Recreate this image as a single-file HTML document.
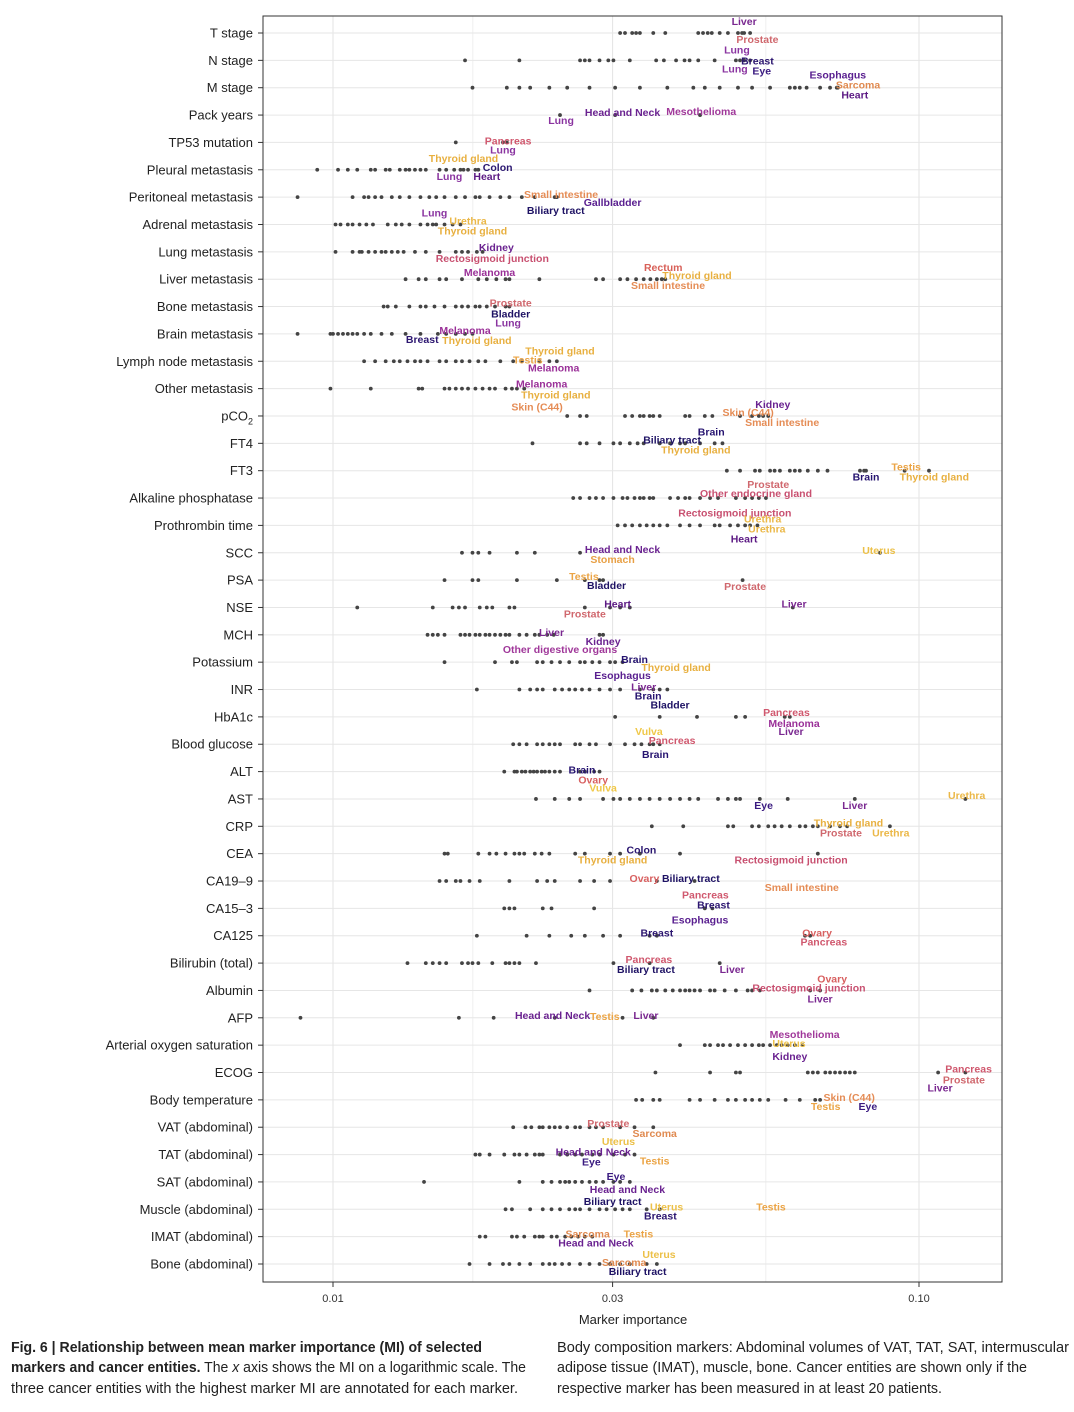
<!DOCTYPE html>
<html><head><meta charset="utf-8">
<style>
html,body{margin:0;padding:0;background:#fff;}
svg{display:block;font-family:"Liberation Sans",sans-serif;}
</style></head>
<body>
<svg id="chart" width="1074" height="1412" viewBox="0 0 1074 1412" xmlns="http://www.w3.org/2000/svg">
<rect x="0" y="0" width="1074" height="1412" fill="#fff"/>
<g id="grid"></g>
<g id="dots"></g>
<g id="ann"></g>
<rect x="263" y="16" width="739" height="1266" fill="none" stroke="#333" stroke-width="1"/>
<g id="ylabels"></g>
<g id="xaxis"></g>
<text x="633" y="1324" font-size="13" text-anchor="middle" fill="#222">Marker importance</text>
<g font-size="14.5" fill="#222">
<text x="11" y="1352" textLength="471" lengthAdjust="spacingAndGlyphs" font-weight="bold">Fig. 6 | Relationship between mean marker importance (MI) of selected</text>
<text x="11" y="1372" textLength="515" lengthAdjust="spacingAndGlyphs"><tspan font-weight="bold">markers and cancer entities.</tspan> The <tspan font-style="italic">x</tspan> axis shows the MI on a logarithmic scale. The</text>
<text x="11" y="1393" textLength="507" lengthAdjust="spacingAndGlyphs">three cancer entities with the highest marker MI are annotated for each marker.</text>
</g>
<g font-size="14.5" fill="#222">
<text x="557" y="1352" textLength="512" lengthAdjust="spacingAndGlyphs">Body composition markers: Abdominal volumes of VAT, TAT, SAT, intermuscular</text>
<text x="557" y="1372" textLength="470" lengthAdjust="spacingAndGlyphs">adipose tissue (IMAT), muscle, bone. Cancer entities are shown only if the</text>
<text x="557" y="1393" textLength="385" lengthAdjust="spacingAndGlyphs">respective marker has been measured in at least 20 patients.</text>
</g>
</svg>
<script>
const markers=["T stage","N stage","M stage","Pack years","TP53 mutation","Pleural metastasis","Peritoneal metastasis","Adrenal metastasis","Lung metastasis","Liver metastasis","Bone metastasis","Brain metastasis","Lymph node metastasis","Other metastasis","pCO2","FT4","FT3","Alkaline phosphatase","Prothrombin time","SCC","PSA","NSE","MCH","Potassium","INR","HbA1c","Blood glucose","ALT","AST","CRP","CEA","CA19–9","CA15–3","CA125","Bilirubin (total)","Albumin","AFP","Arterial oxygen saturation","ECOG","Body temperature","VAT (abdominal)","TAT (abdominal)","SAT (abdominal)","Muscle (abdominal)","IMAT (abdominal)","Bone (abdominal)"];
const xTicks=[0.01,0.03,0.10];
const xTickLabels=["0.01","0.03","0.10"];
const xMinor=[0.01732,0.05477];
const mi=[
[.0309,.0315,.0324,.0329,.0334,.0352,.0369,.0420,.0428,.0436,.0443,.0457,.0472,.0491,.0499,.0503,.0515],
[.0168,.0208,.0264,.0269,.0274,.0285,.0295,.0301,.0321,.0356,.0367,.0385,.0398,.0406,.0420,.0448,.0487,.0495,.0503,.0515],
[.0173,.0198,.0208,.0217,.0234,.0251,.0274,.0303,.0334,.0372,.0412,.0431,.0457,.0491,.0519,.0557,.0602,.0614,.0626,.0643,.0678,.0705,.0724,.0727],
[.0244,.0303,.0423],
[.0162,.0195,.0198],
[.0094,.0102,.0106,.0110,.0116,.0118,.0123,.0125,.0130,.0133,.0135,.0138,.0141,.0144,.0152,.0156,.0161,.0165,.0167,.0170,.0175,.0177],
[.0087,.0108,.0113,.0115,.0118,.0121,.0126,.0130,.0135,.0141,.0146,.0150,.0155,.0162,.0168,.0175,.0178,.0185,.0193,.0200,.0210,.0221,.0239,.0241],
[.0101,.0103,.0106,.0108,.0111,.0114,.0117,.0124,.0128,.0131,.0135,.0141,.0145,.0148,.0150,.0155,.0160,.0165],
[.0101,.0108,.0111,.0112,.0115,.0118,.0121,.0123,.0126,.0129,.0132,.0138,.0144,.0152,.0162,.0166,.0170,.0176,.0180],
[.0133,.0140,.0144,.0152,.0156,.0166,.0177,.0183,.0190,.0197,.0200,.0225,.0281,.0289,.0309,.0318,.0329,.0339,.0348,.0357,.0364,.0369],
[.0122,.0124,.0128,.0135,.0141,.0144,.0149,.0155,.0162,.0166,.0170,.0175,.0178,.0183,.0189,.0197,.0200],
[.0087,.0099,.0100,.0102,.0104,.0106,.0108,.0110,.0113,.0116,.0121,.0126,.0133,.0141,.0151,.0156,.0162,.0168,.0173],
[.0113,.0118,.0123,.0127,.0130,.0134,.0138,.0141,.0145,.0152,.0156,.0162,.0166,.0171,.0177,.0182,.0193,.0203,.0210,.0225,.0234,.0241],
[.0099,.0116,.0140,.0142,.0155,.0158,.0162,.0166,.0170,.0175,.0180,.0185,.0189,.0197,.0202,.0206,.0212],
[.0251,.0264,.0271,.0315,.0324,.0334,.0339,.0347,.0352,.0361,.0399,.0406,.0431,.0444,.0495,.0519,.0533,.0542,.0553],
[.0219,.0264,.0271,.0285,.0301,.0309,.0321,.0331,.0339,.0361,.0376,.0391,.0399,.0423,.0448,.0462],
[.0470,.0495,.0525,.0535,.0557,.0567,.0579,.0602,.0614,.0626,.0646,.0672,.0698,.0793,.0806,.0812,.0945,.1040],
[.0257,.0264,.0274,.0281,.0289,.0301,.0312,.0318,.0327,.0334,.0339,.0347,.0352,.0376,.0388,.0399,.0406,.0423,.0440,.0454,.0487,.0505,.0519,.0533,.0548],
[.0306,.0315,.0324,.0334,.0343,.0352,.0361,.0372,.0391,.0406,.0423,.0448,.0457,.0476,.0491,.0505,.0515,.0530],
[.0166,.0173,.0177,.0185,.0206,.0221,.0264,.0858],
[.0155,.0173,.0177,.0206,.0241,.0269,.0285,.0289,.0500],
[.0110,.0148,.0160,.0164,.0168,.0178,.0183,.0187,.0200,.0204,.0269,.0297,.0309,.0321,.0609],
[.0145,.0148,.0151,.0155,.0165,.0168,.0171,.0175,.0178,.0182,.0185,.0189,.0193,.0197,.0200,.0208,.0214,.0221,.0225,.0232,.0238,.0285,.0289],
[.0155,.0189,.0202,.0206,.0223,.0228,.0236,.0244,.0253,.0264,.0269,.0277,.0285,.0297,.0303,.0312],
[.0176,.0208,.0217,.0223,.0228,.0239,.0246,.0253,.0259,.0266,.0274,.0285,.0297,.0309,.0334,.0352,.0361,.0372],
[.0303,.0361,.0418,.0487,.0505,.0590,.0602],
[.0203,.0208,.0214,.0223,.0228,.0234,.0239,.0244,.0259,.0264,.0274,.0281,.0297,.0315,.0327,.0336,.0347,.0352,.0361],
[.0196,.0204,.0206,.0210,.0213,.0217,.0220,.0223,.0227,.0230,.0234,.0239,.0244,.0264,.0269,.0279,.0285],
[.0222,.0239,.0253,.0264,.0289,.0301,.0309,.0321,.0334,.0347,.0361,.0376,.0391,.0406,.0420,.0454,.0472,.0487,.0495,.0535,.0597,.0777,.1200],
[.0350,.0396,.0472,.0482,.0519,.0533,.0553,.0567,.0583,.0602,.0626,.0640,.0659,.0672,.0705,.0733,.0754,.0892],
[.0155,.0157,.0177,.0185,.0190,.0197,.0204,.0208,.0212,.0221,.0227,.0234,.0259,.0269,.0297,.0309,.0334,.0391,.0672],
[.0152,.0156,.0162,.0165,.0171,.0178,.0200,.0223,.0232,.0239,.0264,.0279,.0297,.0357,.0414],
[.0196,.0200,.0204,.0228,.0236,.0279,.0431,.0444],
[.0176,.0214,.0234,.0255,.0269,.0289,.0309,.0347,.0357,.0639,.0652],
[.0134,.0144,.0148,.0152,.0156,.0166,.0170,.0173,.0177,.0187,.0197,.0200,.0204,.0208,.0222,.0301,.0347,.0457],
[.0274,.0324,.0336,.0350,.0357,.0369,.0380,.0391,.0399,.0406,.0414,.0423,.0440,.0448,.0466,.0487,.0510,.0519,.0535,.0652,.0678],
[.0088,.0164,.0188,.0239,.0312,.0352],
[.0391,.0431,.0440,.0454,.0463,.0476,.0491,.0505,.0519,.0533,.0542,.0557,.0572,.0583,.0597,.0614,.0633],
[.0355,.0440,.0487,.0495,.0646,.0659,.0672,.0692,.0705,.0719,.0733,.0748,.0762,.0777,.1078,.1200],
[.0329,.0337,.0352,.0361,.0406,.0423,.0448,.0472,.0487,.0505,.0519,.0535,.0553,.0592,.0626,.0665,.0678],
[.0203,.0213,.0218,.0225,.0228,.0234,.0239,.0244,.0251,.0259,.0264,.0274,.0281,.0289,.0309,.0327,.0352],
[.0175,.0178,.0185,.0196,.0204,.0208,.0214,.0221,.0225,.0228,.0244,.0251,.0259,.0266,.0277,.0285,.0301,.0315,.0327],
[.0143,.0208,.0228,.0236,.0244,.0249,.0253,.0259,.0266,.0274,.0281,.0289,.0301,.0309,.0321],
[.0197,.0202,.0217,.0228,.0236,.0244,.0253,.0259,.0264,.0274,.0285,.0293,.0303,.0312,.0321,.0343,.0361],
[.0178,.0182,.0202,.0206,.0212,.0221,.0225,.0228,.0236,.0241,.0249,.0255,.0262,.0269,.0277],
[.0171,.0185,.0195,.0200,.0208,.0217,.0228,.0234,.0239,.0246,.0253,.0264,.0274,.0285,.0297,.0309,.0321,.0343,.0357]
];
const annRow=[0,0,1,1,1,1,2,2,2,3,3,3,4,4,5,5,5,5,6,6,6,7,7,7,8,8,9,9,9,9,10,10,10,11,11,11,12,12,12,13,13,13,14,14,14,15,15,15,16,16,16,17,17,18,18,18,18,19,19,19,20,20,20,21,21,21,22,22,22,23,23,23,24,24,24,25,25,25,26,26,26,27,27,27,28,28,28,29,29,29,30,30,30,31,31,31,32,32,32,33,33,33,34,34,34,35,35,35,36,36,36,37,37,37,38,38,38,39,39,39,40,40,40,41,41,41,42,42,42,43,43,43,44,44,44,45,45,45];
const annVal=[.0503,.0530,.0489,.0530,.0485,.0539,.0727,.0787,.0777,.0312,.0425,.0245,.0199,.0195,.0167,.0191,.0158,.0183,.0245,.0300,.0240,.0149,.0170,.0173,.0190,.0187,.0185,.0366,.0418,.0373,.0201,.0201,.0199,.0168,.0142,.0176,.0244,.0215,.0238,.0227,.0240,.0223,.0563,.0511,.0584,.0442,.0379,.0416,.0812,.0951,.1062,.0553,.0527,.0485,.0541,.0550,.0503,.0312,.0300,.0854,.0268,.0293,.0505,.0306,.0269,.0612,.0236,.0289,.0244,.0327,.0385,.0312,.0339,.0345,.0376,.0594,.0612,.0605,.0346,.0379,.0355,.0266,.0278,.0289,.0543,.0777,.1206,.0758,.0736,.0895,.0336,.0300,.0605,.0340,.0408,.0631,.0432,.0446,.0423,.0357,.0670,.0688,.0346,.0342,.0480,.0711,.0649,.0678,.0237,.0291,.0342,.0638,.0600,.0602,.1215,.1193,.1086,.0760,.0693,.0818,.0295,.0354,.0307,.0278,.0276,.0354,.0304,.0318,.0300,.0371,.0362,.0559,.0272,.0332,.0281,.0360,.0314,.0331];
const annDy=[-12,6,-11,0,8,10,-13,-3,7,-3,-4,5,-2,7,-12,-3,6,6,-3,5,13,-12,-4,6,-5,6,-7,-12,-4,6,-4,7,16,-4,5,6,-11,-2,6,-5,6,18,-12,-4,6,-12,-4,6,6,-4,6,-14,-5,-13,-7,3,13,-4,6,-3,-4,5,6,-4,6,-4,-3,6,14,-3,5,13,-3,6,15,-5,6,14,-13,-4,10,-2,8,16,6,6,-4,-4,6,6,-4,6,6,-3,-3,6,-14,-4,11,-3,-3,6,-4,6,6,-12,-3,8,-3,-2,-3,-11,-2,11,-4,7,15,-3,6,6,-4,6,14,-3,7,6,-6,7,19,-3,6,-3,-3,-3,6,-10,-2,7];
const annName=["Liver","Prostate","Lung","Breast","Lung","Eye","Esophagus","Sarcoma","Heart","Head and Neck","Mesothelioma","Lung","Pancreas","Lung","Thyroid gland","Colon","Lung","Heart","Small intestine","Gallbladder","Biliary tract","Lung","Urethra","Thyroid gland","Kidney","Rectosigmoid junction","Melanoma","Rectum","Thyroid gland","Small intestine","Prostate","Bladder","Lung","Melanoma","Breast","Thyroid gland","Thyroid gland","Testis","Melanoma","Melanoma","Thyroid gland","Skin (C44)","Kidney","Skin (C44)","Small intestine","Brain","Biliary tract","Thyroid gland","Brain","Testis","Thyroid gland","Prostate","Other endocrine gland","Rectosigmoid junction","Urethra","Urethra","Heart","Head and Neck","Stomach","Uterus","Testis","Bladder","Prostate","Heart","Prostate","Liver","Liver","Kidney","Other digestive organs","Brain","Thyroid gland","Esophagus","Liver","Brain","Bladder","Pancreas","Melanoma","Liver","Vulva","Pancreas","Brain","Brain","Ovary","Vulva","Eye","Liver","Urethra","Thyroid gland","Prostate","Urethra","Colon","Thyroid gland","Rectosigmoid junction","Ovary","Biliary tract","Small intestine","Pancreas","Breast","Esophagus","Breast","Ovary","Pancreas","Pancreas","Biliary tract","Liver","Ovary","Rectosigmoid junction","Liver","Head and Neck","Testis","Liver","Mesothelioma","Uterus","Kidney","Pancreas","Prostate","Liver","Skin (C44)","Testis","Eye","Prostate","Sarcoma","Uterus","Head and Neck","Eye","Testis","Eye","Head and Neck","Biliary tract","Uterus","Breast","Testis","Sarcoma","Testis","Head and Neck","Uterus","Sarcoma","Biliary tract"];
const entityColor={"Liver":"#7a2890","Prostate":"#d0686e","Lung":"#8a34a0","Breast":"#2c1670","Eye":"#3a1a80","Esophagus":"#5a2090","Sarcoma":"#e08a50","Heart":"#5c1a84","Head and Neck":"#6a2290","Mesothelioma":"#a0389a","Pancreas":"#d0586e","Thyroid gland":"#e8b040","Colon":"#2a1670","Small intestine":"#e58c55","Gallbladder":"#5a2090","Biliary tract":"#1e1264","Urethra":"#ebb848","Kidney":"#6a2290","Rectosigmoid junction":"#c85070","Melanoma":"#9a3098","Rectum":"#d86058","Bladder":"#1e1264","Testis":"#eba445","Skin (C44)":"#e58c55","Brain":"#261470","Other endocrine gland":"#c85070","Stomach":"#e8a045","Uterus":"#ecc048","Other digestive organs":"#a0389a","Vulva":"#f0c848","Ovary":"#d86060"};

const NS="http://www.w3.org/2000/svg";
const X0=263,X1=1002;
function xs(v){return 333+586*Math.log10(v/0.01);}
function ys(i){return 33+i*(1231/45);}
function mk(tag,attrs,parent){const e=document.createElementNS(NS,tag);for(const k in attrs)e.setAttribute(k,attrs[k]);parent.appendChild(e);return e;}
const grid=document.getElementById('grid'),dots=document.getElementById('dots'),ann=document.getElementById('ann'),yl=document.getElementById('ylabels'),xa=document.getElementById('xaxis');

xMinor.forEach(v=>{const l=mk('line',{x1:xs(v),x2:xs(v),y1:16,y2:1282,stroke:'#f0f0f0','stroke-width':1},grid);

});
xTicks.forEach((v,k)=>{const l=mk('line',{x1:xs(v),x2:xs(v),y1:16,y2:1282,stroke:'#e3e3e3','stroke-width':1},grid);


const t=mk('line',{x1:xs(v),x2:xs(v),y1:1282,y2:1287,stroke:'#333'},xa);


const tx=mk('text',{x:xs(v),y:1302,'font-size':11,'text-anchor':'middle',fill:'#333'},xa);
tx.textContent=xTickLabels[k];

});

markers.forEach((m,i)=>{const y=ys(i);
const g=mk('line',{x1:X0,x2:X1,y1:y,y2:y,stroke:'#e6e6e6','stroke-width':1},grid);


const tk=mk('line',{x1:258,x2:263,y1:y,y2:y,stroke:'#333'},yl);


const t=mk('text',{x:253,y:y+4.5,'font-size':13,'text-anchor':'end',fill:'#222'},yl);
if(m==='pCO2'){t.textContent='pCO';const s=mk('tspan',{'font-size':9,dy:4},t);s.textContent='2';}else t.textContent=m;


mi[i].forEach(v=>{const c=mk('circle',{cx:xs(v),cy:y,r:1.9,fill:'#444'},dots);

});
});

annName.forEach((n,k)=>{const x=xs(annVal[k]),y=ys(annRow[k])+annDy[k];
const t=mk('text',{x:x,y:y+4,'font-size':10.5,'font-weight':'bold','text-anchor':'middle',fill:entityColor[n]||'#6a2290'},ann);
t.textContent=n;

});
</script>
</body></html>
